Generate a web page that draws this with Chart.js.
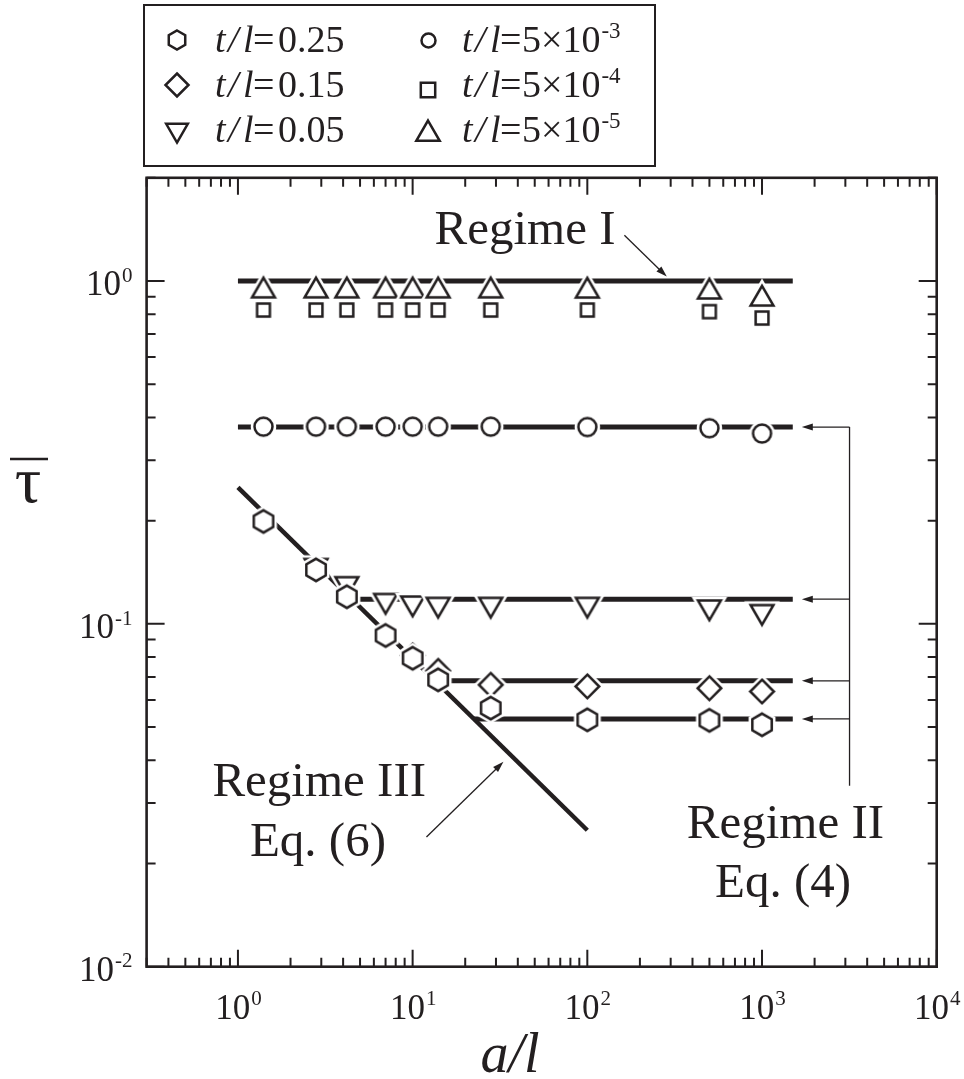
<!DOCTYPE html>
<html>
<head>
<meta charset="utf-8">
<script src="https://cdn.jsdelivr.net/npm/chart.js@4.4.1/dist/chart.umd.min.js"></script>
<style>
  body { margin: 0; background: #fff; }
  #wrap { width: 964px; height: 1079px; }
</style>
</head>
<body>
<div id="wrap"><canvas id="chart" width="964" height="1079"></canvas></div>
<script>
/* ----------- Data ----------- */
const INK = '#231f20';
const FONT = '"Liberation Serif", "DejaVu Serif", serif';

const aL = [1.4, 2.8, 4.2, 7, 10, 14, 28, 100, 500, 1000];
// t/l = 0.25 (hexagons)
const tau025 = [0.199, 0.1437, 0.120, 0.0925, 0.0794, 0.0687, 0.0568, 0.0525, 0.0523, 0.0508];
// t/l = 0.15 (diamonds) - first points hidden under the hexagons
const tau015 = [null, null, null, null, 0.0809, 0.0729, 0.0664, 0.0657, 0.0649, 0.0635];
// t/l = 0.05 (down triangles)
const tau005 = [null, 0.148, 0.131, 0.117, 0.115, 0.114, 0.114, 0.114, 0.112, 0.1086];
// t/l = 5e-3 (circles)
const tau5e3 = [0.376, 0.376, 0.376, 0.376, 0.376, 0.376, 0.376, 0.375, 0.372, 0.359];
// t/l = 5e-4 (squares)
const tau5e4 = [0.823, 0.823, 0.823, 0.823, 0.823, 0.823, 0.823, 0.823, 0.814, 0.780];
// t/l = 5e-5 (up triangles)
const tau5e5 = [0.936, 0.936, 0.936, 0.936, 0.936, 0.936, 0.936, 0.935, 0.929, 0.886];

// model lines [a/l, tau]
const regimeI     = [[1, 1.0], [1500, 1.0]];
const regimeII5e3 = [[1, 0.375], [1500, 0.375]];
const regimeII005 = [[4.5, 0.118], [1500, 0.118]];
const regimeII015 = [[13.5, 0.0682], [1500, 0.0682]];
const regimeII025 = [[22.4, 0.0528], [1500, 0.0528]];
const regimeIII   = [[1, 0.25], [100, 0.025]];

// axes
const xMin = 0.3, xMax = 1e4;
const yMin = 0.01, yMax = 2;
const xTickExp = [0, 1, 2, 3, 4];
const yTickExp = [-2, -1, 0];

// annotations, in data coordinates
const regIArrow = [[163, 1.36], [285, 1.03]];
const regIIIArrow = [[12.0, 0.0239], [33.1, 0.0396]];
const bracketX = 3170, bracketTipX = 1690, bracketBottom = 0.0337;
const bracketLevels = [0.375, 0.118, 0.0682, 0.0528];

/* ----------- Marker images ----------- */
function shapePath(c, kind, R) {
  c.beginPath();
  if (kind === 'circle') { c.arc(0, 0, R, 0, Math.PI * 2); return; }
  if (kind === 'square') { c.rect(-R, -R, 2 * R, 2 * R); return; }
  let angles;
  if (kind === 'diamond') angles = [-90, 0, 90, 180];
  if (kind === 'triUp') angles = [-90, 30, 150];
  if (kind === 'triDown') angles = [90, -30, 210];
  if (kind === 'hexagon') angles = [-90, -30, 30, 90, 150, 210];
  angles.forEach((d, i) => {
    const r = d * Math.PI / 180;
    if (i === 0) c.moveTo(R * Math.cos(r), R * Math.sin(r));
    else c.lineTo(R * Math.cos(r), R * Math.sin(r));
  });
  c.closePath();
}

function makeMarker(kind, R, lw) {
  const s = Math.ceil(2 * (R + lw + 6));
  const cv = document.createElement('canvas');
  cv.width = s; cv.height = s;
  const c = cv.getContext('2d');
  c.translate(s / 2, s / 2);
  c.lineJoin = 'miter';
  shapePath(c, kind, R);
  c.strokeStyle = '#fff'; c.lineWidth = lw + 5; c.stroke();
  c.fillStyle = '#fff'; c.fill();
  c.strokeStyle = INK; c.lineWidth = lw; c.stroke();
  return cv;
}

const LW = 2.5;
const mk = {
  hexagon: makeMarker('hexagon', 11.2, LW),
  diamond: makeMarker('diamond', 11.8, LW),
  triDown: makeMarker('triDown', 13.2, LW),
  circle: makeMarker('circle', 9, LW),
  square: makeMarker('square', 6.4, LW),
  triUp: makeMarker('triUp', 13.2, LW)
};

function pts(ys) {
  return aL.map((x, i) => ({x: x, y: ys[i]})).filter(p => p.y !== null);
}
function seg(arr) {
  return arr.map(p => ({x: p[0], y: p[1]}));
}
function markerSet(label, ys, img) {
  return { label: label, data: pts(ys), pointStyle: img, pointRadius: 10, showLine: false };
}
function lineSet(label, arr, w) {
  return { label: label, data: seg(arr), showLine: true, borderColor: INK, borderWidth: w,
           pointRadius: 0, borderCapStyle: 'butt' };
}

/* ----------- Decorations: frame, ticks, labels, legend ----------- */
function supText(ctx, base, sup, x, y, size, align) {
  ctx.font = size + 'px ' + FONT;
  const wb = ctx.measureText(base).width;
  const ss = Math.round(size * 0.6);
  ctx.font = ss + 'px ' + FONT;
  const ws = ctx.measureText(sup).width;
  let x0 = x;
  if (align === 'center') x0 = x - (wb + ws) / 2;
  if (align === 'right') x0 = x - wb - ws;
  ctx.textAlign = 'left';
  ctx.font = size + 'px ' + FONT;
  ctx.fillText(base, x0, y);
  ctx.font = ss + 'px ' + FONT;
  ctx.fillText(sup, x0 + wb + 1, y - size * 0.38);
}

function arrow(ctx, x1, y1, x2, y2) {
  const ang = Math.atan2(y2 - y1, x2 - x1);
  const L = 11, W = 3.5;
  ctx.lineWidth = 1.3;
  ctx.beginPath();
  ctx.moveTo(x1, y1);
  ctx.lineTo(x2 - Math.cos(ang) * L * 0.8, y2 - Math.sin(ang) * L * 0.8);
  ctx.stroke();
  ctx.beginPath();
  ctx.moveTo(x2, y2);
  ctx.lineTo(x2 - Math.cos(ang) * L - Math.sin(ang) * W, y2 - Math.sin(ang) * L + Math.cos(ang) * W);
  ctx.lineTo(x2 - Math.cos(ang) * L + Math.sin(ang) * W, y2 - Math.sin(ang) * L - Math.cos(ang) * W);
  ctx.closePath();
  ctx.fill();
}

function legendEntry(ctx, img, sx, sy, tx, ty, value, sup) {
  ctx.drawImage(img, Math.round(sx - img.width / 2), Math.round(sy - img.height / 2));
  ctx.textAlign = 'left';
  ctx.font = 'italic 38px ' + FONT;
  ctx.fillText('t', tx, ty);
  ctx.fillText('/', tx + 13, ty);
  ctx.fillText('l', tx + 28, ty);
  ctx.font = '38px ' + FONT;
  ctx.fillText('=', tx + 38, ty);
  if (sup) supText(ctx, value, sup, tx + 60, ty, 38, 'left');
  else { ctx.font = '38px ' + FONT; ctx.fillText(value, tx + 63, ty); }
}

const legMk = {
  hexagon: makeMarker('hexagon', 9.5, LW),
  diamond: makeMarker('diamond', 11.5, LW),
  triDown: makeMarker('triDown', 12.5, LW),
  circle: makeMarker('circle', 7, LW),
  square: makeMarker('square', 7.2, LW),
  triUp: makeMarker('triUp', 13.5, LW)
};

const decor = {
  id: 'decor',
  afterDraw(chart) {
    const {ctx, chartArea: a, scales: {x, y}} = chart;
    const X = v => x.getPixelForValue(v);
    const Y = v => y.getPixelForValue(v);
    ctx.save();
    ctx.strokeStyle = INK;
    ctx.fillStyle = INK;
    ctx.textBaseline = 'alphabetic';

    // inward ticks on all four sides
    ctx.lineWidth = 2;
    ctx.beginPath();
    for (let e = -3; e <= 4; e++) {
      for (let m = 1; m <= 9; m++) {
        const v = m * Math.pow(10, e);
        if (v >= xMin * 0.999 && v <= xMax * 1.001) {
          const px = X(v), len = m === 1 ? 17 : 9;
          ctx.moveTo(px, a.bottom); ctx.lineTo(px, a.bottom - len);
          ctx.moveTo(px, a.top); ctx.lineTo(px, a.top + len);
        }
        if (v >= yMin * 0.999 && v <= yMax * 1.001) {
          const py = Y(v), len = m === 1 ? 18 : 9;
          ctx.moveTo(a.left, py); ctx.lineTo(a.left + len, py);
          ctx.moveTo(a.right, py); ctx.lineTo(a.right - len, py);
        }
      }
    }
    ctx.stroke();

    // frame
    ctx.lineWidth = 2.6;
    ctx.strokeRect(a.left, a.top, a.right - a.left, a.bottom - a.top);

    // tick labels
    xTickExp.forEach(e => supText(ctx, '10', String(e), X(Math.pow(10, e)), a.bottom + 52, 35, 'center'));
    yTickExp.forEach(e => supText(ctx, '10', String(e), a.left - 15, Y(Math.pow(10, e)) + 14, 35, 'right'));

    // axis titles
    ctx.textAlign = 'center';
    ctx.font = 'italic 56px ' + FONT;
    ctx.fillText('a/l', 510, 1072);
    ctx.font = '66px ' + FONT;
    ctx.fillText('τ', 28, 502);
    ctx.lineWidth = 2.6;
    ctx.beginPath(); ctx.moveTo(10, 459); ctx.lineTo(48, 459); ctx.stroke();

    // regime labels
    ctx.font = '49px ' + FONT;
    ctx.fillText('Regime I', X(44), Y(1.28));
    ctx.fillText('Regime III', X(2.92), Y(0.0314));
    ctx.fillText('Eq. (6)', X(2.87), Y(0.0211));
    ctx.fillText('Regime II', X(1362), Y(0.0238));
    ctx.fillText('Eq. (4)', X(1319), Y(0.016));

    // arrows
    arrow(ctx, X(regIArrow[0][0]), Y(regIArrow[0][1]), X(regIArrow[1][0]), Y(regIArrow[1][1]));
    arrow(ctx, X(regIIIArrow[0][0]), Y(regIIIArrow[0][1]), X(regIIIArrow[1][0]), Y(regIIIArrow[1][1]));
    ctx.lineWidth = 1.3;
    ctx.beginPath();
    ctx.moveTo(X(bracketX), Y(bracketLevels[0]));
    ctx.lineTo(X(bracketX), Y(bracketBottom));
    ctx.stroke();
    bracketLevels.forEach(v => arrow(ctx, X(bracketX), Y(v), X(bracketTipX), Y(v)));

    // legend box
    ctx.lineWidth = 2;
    ctx.strokeRect(144, 5, 511, 161);
    legendEntry(ctx, legMk.hexagon, 177, 40, 215, 52, '0.25');
    legendEntry(ctx, legMk.diamond, 177, 85, 215, 97, '0.15');
    legendEntry(ctx, legMk.triDown, 177, 130, 215, 142, '0.05');
    legendEntry(ctx, legMk.circle, 428, 40, 462, 52, '5×10', '-3');
    legendEntry(ctx, legMk.square, 428, 90, 462, 97, '5×10', '-4');
    legendEntry(ctx, legMk.triUp, 428, 134, 462, 142, '5×10', '-5');

    ctx.restore();
  }
};

/* ----------- Chart ----------- */
new Chart(document.getElementById('chart').getContext('2d'), {
  type: 'scatter',
  data: {
    datasets: [
      markerSet('t/l=0.25', tau025, mk.hexagon),
      markerSet('t/l=0.15', tau015, mk.diamond),
      markerSet('t/l=0.05', tau005, mk.triDown),
      markerSet('t/l=5e-3', tau5e3, mk.circle),
      markerSet('t/l=5e-4', tau5e4, mk.square),
      markerSet('t/l=5e-5', tau5e5, mk.triUp),
      lineSet('Regime I', regimeI, 5),
      lineSet('Regime II 5e-3', regimeII5e3, 5),
      lineSet('Regime II 0.05', regimeII005, 5),
      lineSet('Regime II 0.15', regimeII015, 5),
      lineSet('Regime II 0.25', regimeII025, 5),
      lineSet('Regime III', regimeIII, 4.5)
    ]
  },
  options: {
    responsive: false,
    animation: false,
    devicePixelRatio: 1,
    layout: { padding: { left: 146.6, right: 27.3, top: 177.8, bottom: 112.3 } },
    plugins: { legend: { display: false }, tooltip: { enabled: false } },
    scales: {
      x: { type: 'logarithmic', min: xMin, max: xMax, display: false },
      y: { type: 'logarithmic', min: yMin, max: yMax, display: false }
    }
  },
  plugins: [decor]
});
</script>
</body>
</html>
